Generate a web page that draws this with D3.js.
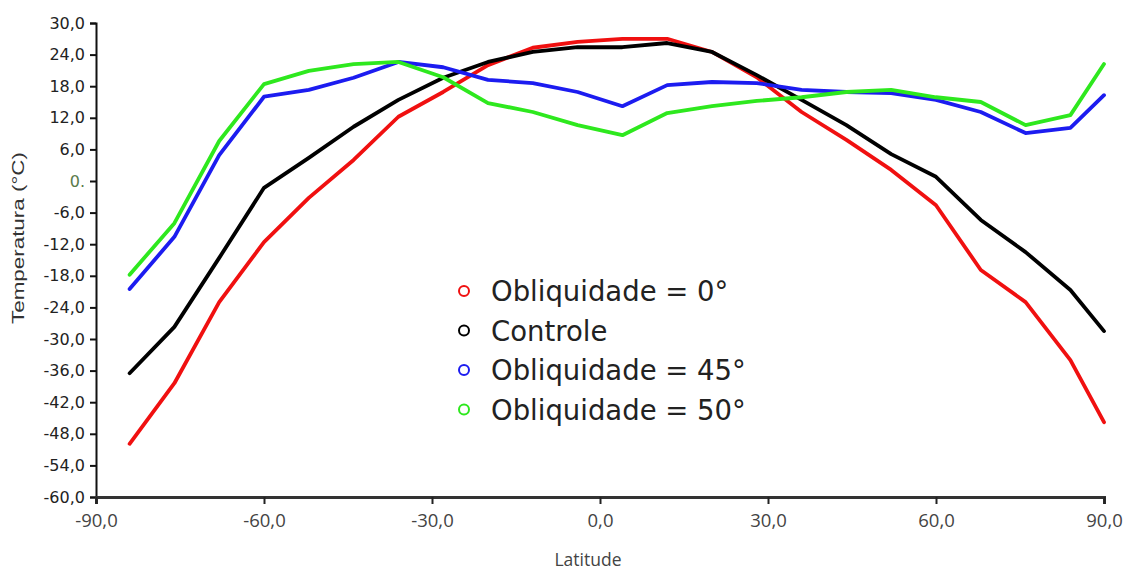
<!DOCTYPE html>
<html>
<head>
<meta charset="utf-8">
<script src="https://cdn.jsdelivr.net/npm/d3@7"></script>
<style>
  body { margin: 0; background: #fff; }
  svg { display: block; }
</style>
</head>
<body>
<script>
var width = 1126,
	height = 571,
	margin = {top: 23, right: 22, bottom: 74, left: 96};

// latitudes of the model grid
var latitudes = [-84, -76, -68, -60, -52, -44, -36, -28, -20, -12, -4, 4, 12, 20, 28, 36, 44, 52, 60, 68, 76, 84, 90];

var obliq0 = [-49.9, -38.4, -23.0, -11.6, -3.2, 4.0, 12.2, 16.9, 22.0, 25.3, 26.4, 27.0, 27.0, 24.5, 19.7, 13.1, 7.8, 2.1, -4.6, -16.9, -23.0, -34.0, -45.8];
var controle = [-36.5, -27.7, -14.6, -1.3, 4.4, 10.3, 15.4, 19.6, 22.6, 24.5, 25.4, 25.4, 26.2, 24.5, 20.1, 15.4, 10.6, 5.1, 0.8, -7.4, -13.5, -20.7, -28.5];
var obliq45 = [-20.5, -10.6, 4.9, 16.0, 17.3, 19.6, 22.6, 21.6, 19.2, 18.6, 16.9, 14.2, 18.2, 18.8, 18.6, 17.3, 16.9, 16.7, 15.4, 13.1, 9.1, 10.1, 16.3];
var obliq50 = [-17.8, -8.0, 7.6, 18.4, 20.9, 22.2, 22.6, 19.7, 14.8, 13.1, 10.6, 8.7, 12.9, 14.2, 15.2, 15.9, 16.9, 17.3, 15.9, 15.0, 10.6, 12.5, 22.2];

var seriesNames = ["Obliquidade = 0°", "Controle", "Obliquidade = 45°", "Obliquidade = 50°"],
	seriesColors = ["#f01010", "#000000", "#1c1cf0", "#2ee81e"];

var xTicks = [-90, -60, -30, 0, 30, 60, 90],
	yTicks = [30, 24, 18, 12, 6, 0, -6, -12, -18, -24, -30, -36, -42, -48, -54, -60];

var series = [obliq0, controle, obliq45, obliq50];

var svg = d3.select("body")
		.append("svg")
		.attr("width", width)
		.attr("height", height);

var x = d3.scaleLinear().domain([-90, 90]).range([margin.left, width - margin.right]),
	y = d3.scaleLinear().domain([-60, 30]).range([height - margin.bottom, margin.top]);

// "30,0" style labels with a plain hyphen
var fmt = function (d) { return d3.format(".1f")(d).replace(".", ",").replace("\u2212", "-"); };

// y axis
var yAxis = svg.append("g")
	.attr("transform", "translate(" + margin.left + ",0)")
	.call(d3.axisLeft(y).tickValues(yTicks).tickSize(6).tickPadding(5)
		.tickFormat(function (d) { return d === 0 ? "0." : fmt(d); }));
yAxis.select(".domain").attr("stroke", "#111").attr("stroke-width", 2);
yAxis.selectAll(".tick line").attr("stroke", "#111").attr("stroke-width", 2);
yAxis.selectAll("text")
	.attr("font-family", "DejaVu Sans, Verdana, sans-serif")
	.attr("font-size", 16)
	.attr("fill", function (d) { return d === 0 ? "#5a7a4a" : "#222"; });

// x axis
var xAxis = svg.append("g")
	.attr("transform", "translate(0," + (height - margin.bottom) + ")")
	.call(d3.axisBottom(x).tickValues(xTicks).tickSize(7).tickPadding(10).tickFormat(fmt));
xAxis.select(".domain").attr("stroke", "#333").attr("stroke-width", 3);
xAxis.selectAll(".tick line").attr("stroke", "#222").attr("stroke-width", 2);
xAxis.selectAll("text")
	.attr("font-family", "Open Sans, sans-serif")
	.attr("font-size", 18.5)
	.attr("fill", "#444");

// axis titles
svg.append("text")
	.attr("x", x(0) - 12)
	.attr("y", 566)
	.attr("text-anchor", "middle")
	.attr("font-family", "Open Sans, sans-serif")
	.attr("font-size", 17.5)
	.attr("fill", "#444")
	.text("Latitude");

svg.append("text")
	.attr("transform", "translate(24," + 238 + ") rotate(-90)")
	.attr("text-anchor", "middle")
	.attr("font-family", "Liberation Sans, Arial, sans-serif")
	.attr("font-size", 17)
	.attr("textLength", 172)
	.attr("lengthAdjust", "spacingAndGlyphs")
	.attr("fill", "#333")
	.text("Temperatura (°C)");

// lines
var line = d3.line()
	.x(function (d, i) { return x(latitudes[i]); })
	.y(function (d) { return y(d); });

series.forEach(function (s, k) {
	svg.append("path")
		.datum(s)
		.attr("fill", "none")
		.attr("stroke", seriesColors[k])
		.attr("stroke-width", 3.8)
		.attr("stroke-linejoin", "round")
		.attr("stroke-linecap", "round")
		.attr("d", line);
});

// legend
var legend = svg.append("g").attr("transform", "translate(464,291)");
seriesNames.forEach(function (name, k) {
	var row = legend.append("g").attr("transform", "translate(0," + (k * 39.5) + ")");
	row.append("circle")
		.attr("r", 5)
		.attr("fill", "none")
		.attr("stroke", seriesColors[k])
		.attr("stroke-width", 2);
	row.append("text")
		.attr("x", 27)
		.attr("y", 10)
		.attr("font-family", "DejaVu Sans, sans-serif")
		.attr("font-size", 27.5)
		.attr("fill", "#222")
		.text(name);
});
</script>
</body>
</html>
